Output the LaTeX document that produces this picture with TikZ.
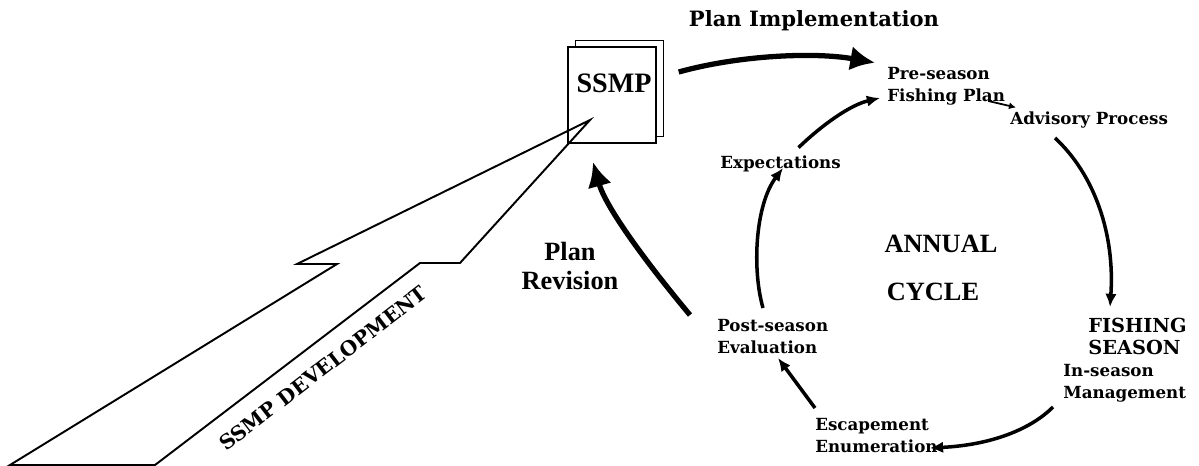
\documentclass[tikz,border=0pt]{standalone}
\usepackage{fontspec}
\usepackage{tikz}
\usetikzlibrary{arrows.meta}
\newfontfamily\dotfont{DejaVu Serif}
\newfontfamily\timesfont{Liberation Serif}
\tikzset{>={Latex[length=7.5pt,width=6.5pt]}}
\tikzset{
    lbl/.style={font=\dotfont\bfseries\fontsize{9.5}{12.5}\selectfont, align=left, inner sep=0pt},
    hdr/.style={font=\timesfont\bfseries\fontsize{15}{16}\selectfont, inner sep=0pt},
    flow/.style={line width=2pt, ->},
    bigflow/.style={line width=3pt, -{Latex[length=14pt,width=14pt]}},
    page/.style={draw, line width=0.8pt, fill=white, minimum width=1.76cm, minimum height=1.92cm, inner sep=0pt}
}

\begin{document}
\begin{tikzpicture}[x=0.02cm, y=-0.02cm]
    \useasboundingbox (0,0) rectangle (1199,466);
    \node[page] (back) at (619.5,88.5) {};
    \node[page] (doc) at (612,95) {};
    \node[hdr, font=\timesfont\bfseries\fontsize{16}{18}\selectfont] (ssmp) at (614,83) {SSMP};
    \draw[line width=1.1pt, line join=miter] (10,465) -- (337,264) -- (297,264) -- (590,120)
        -- (460,263) -- (420,263) -- (155,465) -- cycle;
    \node[rotate=37.5, font=\dotfont\bfseries\fontsize{11.5}{13}\selectfont] (dev) at (323,368) {SSMP DEVELOPMENT};

    \node[font=\dotfont\bfseries\fontsize{12}{14}\selectfont] (impl) at (814,21) {Plan Implementation};
    \node[hdr, align=center] (rev) at (570,266) {Plan\\[1pt]Revision};
    \node[hdr] (annual) at (941,244) {ANNUAL};
    \node[hdr] (cycle) at (933,292) {CYCLE};

    \node[lbl, anchor=west] (pre) at (887,86) {Pre-season\\Fishing Plan};
    \node[lbl, anchor=west] (adv) at (1010,120) {Advisory Process};
    \node[lbl, anchor=west] (exp) at (720,164) {Expectations};
    \node[lbl, anchor=west] (post) at (717,337) {Post-season\\Evaluation};
    \node[lbl, anchor=west, font=\dotfont\bfseries\fontsize{11}{12.5}\selectfont] (fish) at (1088,336) {FISHING\\SEASON};
    \node[lbl, anchor=west] (ins) at (1063,383) {In-season\\Management};
    \node[lbl, anchor=west] (esc) at (815,436) {Escapement\\Enumeration};

    \draw[bigflow] ([shift={(22,-23)}]doc.east) .. controls (740,55) and (815,52) .. ([shift={(-12,-4)}]pre.north west);
    \draw[flow] ([shift={(18,-8)}]exp.north) .. controls (822,125) and (850,105) .. ([shift={(-7,12)}]pre.west);
    \draw[line width=1pt, -{Latex[length=4pt,width=4pt]}] ([shift={(-17,15)}]pre.east) -- ([shift={(6,-4)}]adv.north west);
    \draw[flow] ([shift={(45,18)}]adv.west) .. controls (1095,175) and (1115,235) .. ([shift={(22,-29)}]fish.west);
    \draw[flow] ([shift={(-10,24)}]ins.west) .. controls (1030,430) and (990,445) .. ([shift={(-8,12)}]esc.east);
    \draw[flow] ([shift={(0,-28)}]esc.west) -- ([shift={(61,21)}]post.west);
    \draw[flow] ([shift={(46,-29)}]post.west) .. controls (752,270) and (755,205) .. ([shift={(63,4)}]exp.west);
    \draw[bigflow] ([shift={(-27,-22)}]post.west) .. controls (640,255) and (605,205) .. ([shift={(-19,67)}]doc.center);
\end{tikzpicture}
\end{document}
